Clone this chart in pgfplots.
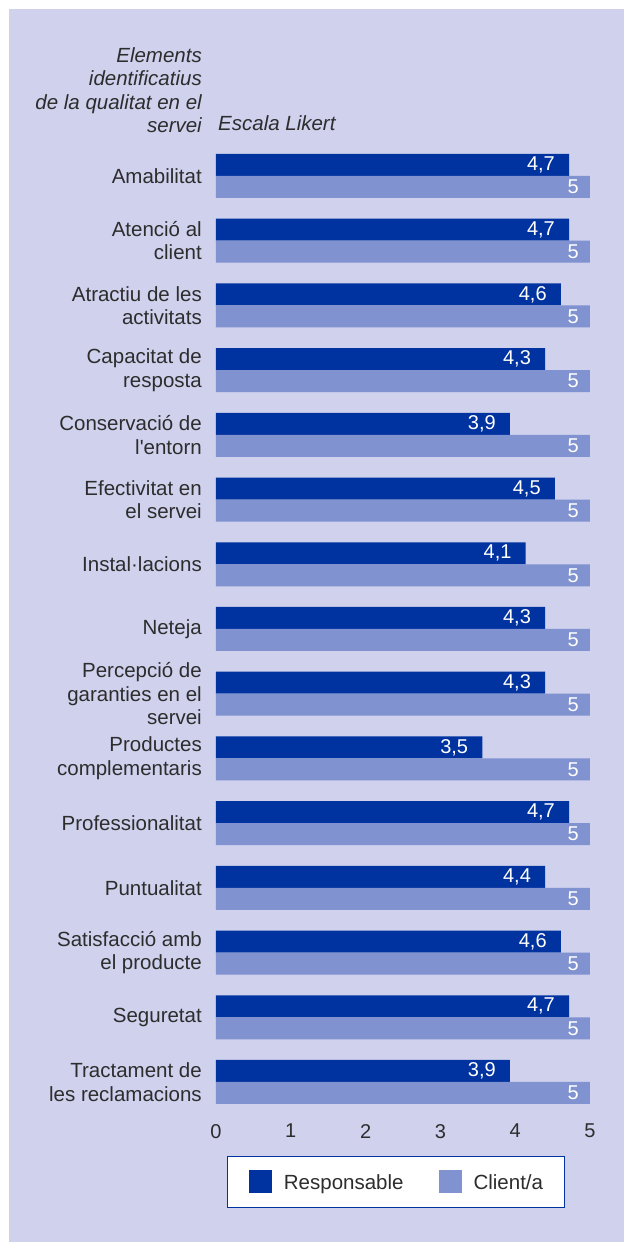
\documentclass[border=0pt]{standalone}
\usepackage{fontspec}
\setmainfont{Liberation Sans}
\usepackage{pgfplots}
\usepackage{pgfplotstable}
\pgfplotsset{compat=1.18}

\definecolor{bg}{RGB}{207,209,237}
\definecolor{resp}{RGB}{0,51,160}
\definecolor{cli}{RGB}{128,146,208}
\definecolor{txt}{RGB}{45,45,45}

% y = 0 is the bottom category (Tractament ...), 14 the top one (Amabilitat)
\pgfplotstableread{
y  resp rlab cli clab
14 4.72 4,7  5   5
13 4.72 4,7  5   5
12 4.61 4,6  5   5
11 4.40 4,3  5   5
10 3.93 3,9  5   5
9  4.53 4,5  5   5
8  4.14 4,1  5   5
7  4.40 4,3  5   5
6  4.40 4,3  5   5
5  3.56 3,5  5   5
4  4.72 4,7  5   5
3  4.40 4,4  5   5
2  4.61 4,6  5   5
1  4.72 4,7  5   5
0  3.93 3,9  5   5
}\likert

\newcommand\lbl{\fontsize{20.5}{23.5}\selectfont}
\newcommand\num{\fontsize{20}{23}\selectfont}

\begin{document}
\begin{tikzpicture}
% background: white edge on the left and top, lavender panel
\fill[white] (-216pt,-127pt) rectangle (408pt,1115pt);
\fill[bg] (-207pt,-127pt) rectangle (408pt,1106pt);

\begin{axis}[
  scale only axis,
  width=374pt, height=972pt,
  xmin=0, xmax=5, ymin=-0.51, ymax=14.51,
  axis line style={draw=none},
  major tick length=0pt,
  xtick={0,1,2,3,4,5},
  ytick={0,...,14},
  yticklabels={{Tractament de\\les reclamacions},Seguretat,{Satisfacció amb\\el producte},Puntualitat,Professionalitat,{Productes\\complementaris},{Percepció de\\garanties en el\\servei},Neteja,Instal·lacions,{Efectivitat en\\el servei},{Conservació de\\l\textquotesingle entorn},{Capacitat de\\resposta},{Atractiu de les\\activitats},{Atenció al\\client},Amabilitat},
  yticklabel style={font=\lbl, text=txt, align=right, inner sep=0pt, xshift=-14pt},
  xticklabel style={font=\num, text=txt, inner sep=0pt, yshift=-9pt},
  /pgf/number format/assume math mode=true,
  xbar, bar width=22pt,
  every axis plot post/.append style={
    legend image code/.code={\fill[##1] (0pt,-10pt) rectangle (23pt,13pt);}},
  nodes near coords,
  point meta=explicit symbolic,
  every node near coord/.append style={font=\num, text=white, anchor=east, inner sep=0pt},
  legend style={at={(0.4813,-0.0684)}, anchor=center, draw=resp, line width=0.9pt,
    fill=white, inner xsep=21pt, inner ysep=14pt, font=\lbl, text=txt,
    nodes={inner sep=0pt},
    /tikz/every odd column/.append style={column sep=12pt},
    /tikz/every even column/.append style={column sep=35pt}},
  legend columns=2,
  legend cell align=left,
]
\addplot[fill=resp, draw=none, bar shift=11pt,
  every node near coord/.append style={xshift=-14pt}]
  table[x=resp, y=y, meta=rlab] {\likert};
\addlegendentry{Responsable}
\addplot[fill=cli, draw=none, bar shift=-11pt,
  every node near coord/.append style={xshift=-11pt}]
  table[x=cli, y=y, meta=clab] {\likert};
\addlegendentry{Client/a}
\end{axis}

\begin{scope}[every node/.style={font=\lbl\itshape, text=txt, inner sep=0pt}]
\node[anchor=base east] at (-14pt,1052pt) {Elements};
\node[anchor=base east] at (-14pt,1029pt) {identificatius};
\node[anchor=base east] at (-14pt,1005pt) {de la qualitat en el};
\node[anchor=base east] at (-14pt,982pt) {servei};
\node[anchor=base west] at (2pt,984pt) {Escala Likert};
\end{scope}

\pgfresetboundingbox
\useasboundingbox (-216pt,-127pt) rectangle (408pt,1115pt);
\end{tikzpicture}
\end{document}
